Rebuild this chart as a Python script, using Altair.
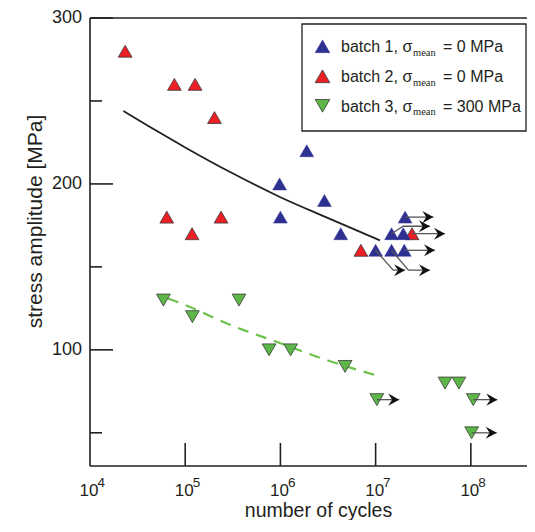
import altair as alt
import pandas as pd

# ---------------- data ----------------
batch1_N = [1.89e6, 9.8e5, 2.9e6, 1.0e6, 4.3e6, 1.0e7, 1.47e7, 2.04e7, 1.95e7, 1.47e7, 2.0e7]
batch1_S = [220, 200, 190, 180, 170, 160, 170, 180, 170, 160, 160]

batch2_N = [2.34e4, 7.7e4, 1.27e5, 2.03e5, 6.4e4, 2.38e5, 1.18e5, 7.0e6, 2.41e7]
batch2_S = [280, 260, 260, 240, 180, 180, 170, 160, 170]

batch3_N = [5.9e4, 1.19e5, 3.67e5, 7.6e5, 1.28e6, 4.78e6, 1.03e7, 5.36e7, 7.5e7, 1.06e8, 1.02e8]
batch3_S = [130, 120, 130, 100, 100, 90, 70, 80, 80, 70, 50]

# fitted curves
fit12_N = [2.24e4, 5e4, 1e5, 3e5, 1e6, 3e6, 1.11e7]
fit12_S = [244, 232, 222, 207, 192, 180, 166]
fit3_N = [6.6e4, 1e5, 3e5, 1e6, 3e6, 1.11e7]
fit3_S = [131, 127, 115, 104, 94, 84]

# run-out arrows (polyline per arrow, last point = tip)
arrow_id = [1, 1, 2, 2, 2, 3, 3, 4, 4, 5, 5, 5, 6, 6, 6, 7, 7, 8, 8, 9, 9]
arrow_N = [2.04e7, 4.04e7,
           1.47e7, 1.95e7, 3.72e7,
           2.41e7, 5.36e7,
           2.0e7, 4.2e7,
           1.0e7, 1.53e7, 2.04e7,
           1.47e7, 2.21e7, 3.72e7,
           1.03e7, 1.77e7,
           1.06e8, 1.9e8,
           1.02e8, 1.87e8]
arrow_S = [180, 180,
           170, 174.5, 174.5,
           170, 170,
           160, 160,
           160, 148, 148,
           160, 148, 148,
           70, 70,
           70, 70,
           50, 50]

x_major_ticks = [1e5, 1e6, 1e7, 1e8]
x_label_N = [1e4, 1e5, 1e6, 1e7, 1e8]
x_label_exp = ["4", "5", "6", "7", "8"]
y_major_ticks = [100, 200, 300]
y_minor_ticks = [50, 150, 250]

legend_main = ["batch 1, σ", "batch 2, σ", "batch 3, σ"]
legend_sub = "mean"
legend_tail = ["= 0 MPa", "= 0 MPa", "= 300 MPa"]

x_title = "number of cycles"
y_title = "stress amplitude [MPa]"

# ---------------- styling ----------------
W, H = 437, 448
FONT = "Liberation Sans"
SERIF = "Liberation Serif"
BLUE = "#2e3192"
RED = "#ec1f26"
GREEN = "#5db748"
DGREEN = "#6cc24c"
INK = "#231f20"
OUT = "#3a3a3a"
ARROW = "M0,0 L-2,-1.1 L-1.3,0 L-2,1.1 Z"

xs = alt.Scale(type="log", domain=[1e4, 3.89e8], nice=False)
ys = alt.Scale(domain=[30, 300], nice=False, zero=False)
one = pd.DataFrame({"a": [0]})


def X(f="N"):
    return alt.X(f + ":Q", scale=xs, axis=None)


def Y(f="S"):
    return alt.Y(f + ":Q", scale=ys, axis=None)


layers = []

# frame
layers.append(alt.Chart(one).mark_rule(color=INK, strokeWidth=1.6).encode(
    x=alt.value(0), y=alt.value(0), y2=alt.value(H)))
layers.append(alt.Chart(one).mark_rule(color=INK, strokeWidth=1.6).encode(
    x=alt.value(0), x2=alt.value(W), y=alt.value(H)))
layers.append(alt.Chart(one).mark_rule(color=INK, strokeWidth=1.6).encode(
    x=alt.value(0), x2=alt.value(W), y=alt.value(0)))

# inward ticks
layers.append(alt.Chart(pd.DataFrame({"S": y_major_ticks})).mark_rule(color=INK, strokeWidth=1.6).encode(
    y=Y(), x=alt.value(0), x2=alt.value(23)))
layers.append(alt.Chart(pd.DataFrame({"S": y_minor_ticks})).mark_rule(color=INK, strokeWidth=1.6).encode(
    y=Y(), x=alt.value(0), x2=alt.value(12)))
layers.append(alt.Chart(pd.DataFrame({"N": x_major_ticks})).mark_rule(color=INK, strokeWidth=1.6).encode(
    x=X(), y=alt.value(H), y2=alt.value(H - 23)))

# tick labels
layers.append(alt.Chart(pd.DataFrame({"S": y_major_ticks})).mark_text(
    align="right", baseline="middle", font=FONT, fontSize=18, color=INK).encode(
    y=Y(), x=alt.value(-8), text="S:Q"))
df_xl = pd.DataFrame({"N": x_label_N, "e": x_label_exp})
layers.append(alt.Chart(df_xl).mark_text(
    text="10", align="center", baseline="alphabetic", font=FONT, fontSize=17, color=INK, dx=-1).encode(
    x=X(), y=alt.value(477.5)))
layers.append(alt.Chart(df_xl).mark_text(
    align="left", baseline="alphabetic", font=FONT, fontSize=13.5, color=INK, dx=7.5).encode(
    x=X(), y=alt.value(468.5), text="e:N"))

# axis titles
layers.append(alt.Chart(one).mark_text(
    text=x_title, align="center", baseline="alphabetic", font=FONT, fontSize=19.5, color=INK).encode(
    x=alt.value(228.5), y=alt.value(498.5)))
layers.append(alt.Chart(one).mark_text(
    text=y_title, align="center", baseline="alphabetic", font=FONT, fontSize=21, color=INK, angle=270).encode(
    x=alt.value(-48), y=alt.value(203.5)))

# fitted curves
layers.append(alt.Chart(pd.DataFrame({"N": fit12_N, "S": fit12_S})).mark_line(
    color=INK, strokeWidth=1.8, interpolate="monotone").encode(x=X(), y=Y()))
layers.append(alt.Chart(pd.DataFrame({"N": fit3_N, "S": fit3_S})).mark_line(
    color=DGREEN, strokeWidth=2.2, strokeDash=[11, 8], interpolate="monotone").encode(x=X(), y=Y()))

# markers
layers.append(alt.Chart(pd.DataFrame({"N": batch2_N, "S": batch2_S})).mark_point(
    shape="triangle-up", filled=True, fill=RED, stroke=OUT, strokeWidth=0.8, size=190, opacity=1).encode(
    x=X(), y=Y()))
layers.append(alt.Chart(pd.DataFrame({"N": batch1_N, "S": batch1_S})).mark_point(
    shape="triangle-up", filled=True, fill=BLUE, stroke=BLUE, strokeWidth=0.5, size=190, opacity=1).encode(
    x=X(), y=Y()))
layers.append(alt.Chart(pd.DataFrame({"N": batch3_N, "S": batch3_S})).mark_point(
    shape="triangle-down", filled=True, fill=GREEN, stroke=OUT, strokeWidth=0.8, size=190, opacity=1).encode(
    x=X(), y=Y()))

# arrows
df_ar = pd.DataFrame({"id": arrow_id, "N": arrow_N, "S": arrow_S})
df_ar["ord"] = range(len(df_ar))
layers.append(alt.Chart(df_ar).mark_line(color="#555555", strokeWidth=1.3).encode(
    x=X(), y=Y(), detail="id:N", order="ord:Q"))
df_tip = df_ar.groupby("id").tail(1)
layers.append(alt.Chart(df_tip).mark_point(
    shape=ARROW, filled=True, fill="#111111", size=121, opacity=1, strokeWidth=0).encode(
    x=X(), y=Y()))

# legend
layers.append(alt.Chart(one).mark_rect(fill="white", stroke=INK, strokeWidth=1.3).encode(
    x=alt.value(212), x2=alt.value(436), y=alt.value(6), y2=alt.value(113)))
leg_style = [("triangle-up", BLUE, BLUE, 0.5), ("triangle-up", RED, OUT, 0.8), ("triangle-down", GREEN, OUT, 0.8)]
leg_y = [28.3, 58.3, 87.8]
for i in range(3):
    shp, fc, sc, sw = leg_style[i]
    yy = leg_y[i]
    layers.append(alt.Chart(one).mark_point(
        shape=shp, filled=True, fill=fc, stroke=sc, strokeWidth=sw, size=215, opacity=1).encode(
        x=alt.value(232.5), y=alt.value(yy)))
    layers.append(alt.Chart(one).mark_text(
        text=legend_main[i], align="left", baseline="alphabetic", font=FONT, fontSize=16, color=INK).encode(
        x=alt.value(251), y=alt.value(yy + 6)))
    layers.append(alt.Chart(one).mark_text(
        text=legend_sub, align="left", baseline="alphabetic", font=SERIF, fontSize=10.5, color=INK).encode(
        x=alt.value(323), y=alt.value(yy + 9.5)))
    layers.append(alt.Chart(one).mark_text(
        text=legend_tail[i], align="left", baseline="alphabetic", font=FONT, fontSize=16, color=INK).encode(
        x=alt.value(353), y=alt.value(yy + 6)))

chart = alt.layer(*layers).properties(
    width=W, height=H,
    padding={"left": 82, "top": 10, "right": 0, "bottom": 54},
    autosize=alt.AutoSizeParams(type="none"),
).configure_view(stroke=None)

chart.save("out.html", embed_options={"renderer": "svg", "actions": False})
